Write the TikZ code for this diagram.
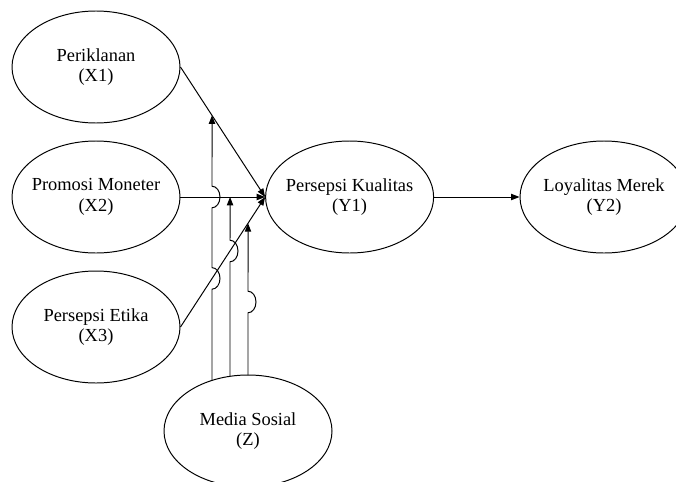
\documentclass[tikz,border=0pt]{standalone}
\usepackage{fontspec}
\setmainfont{Liberation Serif}
\usetikzlibrary{shapes.geometric, arrows.meta, calc}

\tikzset{
  var/.style={draw, ellipse, line width=0.7pt, fill=white, minimum width=4.2cm, minimum height=2.8cm,
    inner xsep=-0.2cm, inner ysep=0pt, align=center, font=\fontsize{13.1}{14.6}\selectfont},
  link/.style={-{Triangle[length=6pt,width=4.5pt]}, line width=0.7pt},
  hop/.style={x radius=0.2, y radius=0.27}
}

\begin{document}
\begin{tikzpicture}
        \useasboundingbox (0,0) rectangle (16.9,12.025);

        % Nodes
        \node[var] (x1) at (2.4,10.35) {Periklanan\\(X1)};
        \node[var] (x2) at (2.4,7.1) {Promosi Moneter\\(X2)};
        \node[var] (x3) at (2.4,3.85) {Persepsi Etika\\(X3)};
        \node[var] (y1) at (8.74,7.1) {Persepsi Kualitas\\(Y1)};
        \node[var] (y2) at (15.1,7.1) {Loyalitas Merek\\(Y2)};
        \node[var] (z) at (6.2,1.25) {Media Sosial\\(Z)};

        % Moderator ends
        \coordinate (z1) at ($(z.center)+(-0.9,1.265)$);
        \coordinate (z2) at ($(z.center)+(-0.45,1.3675)$);
        \coordinate (z3) at ($(z.center)+(0,1.4)$);
        \coordinate (m1) at (intersection of x1.east--y1.west and 5.3,0--5.3,1);
        \coordinate (m2) at (intersection of x2.east--y1.west and 5.75,0--5.75,1);
        \coordinate (m3) at (intersection of x3.east--y1.west and 6.2,0--6.2,1);

        % Arrows
        \draw[link] (x1.east) -- (y1.west);
        \draw[link] (x2.east) -- (y1.west);
        \draw[link] (x3.east) -- (y1.west);
        \draw[link] (y1) -- (y2);

        % Moderating effects
        \draw[link] (z1) -- (5.3,4.795) arc[start angle=-90, end angle=90, hop]
            -- (5.3,6.83) arc[start angle=-90, end angle=90, hop] -- (m1);
        \draw[link] (z2) -- (5.75,5.48) arc[start angle=-90, end angle=90, hop] -- (m2);
        \draw[link] (z3) -- (6.2,4.205) arc[start angle=-90, end angle=90, hop] -- (m3);
    \end{tikzpicture}
\end{document}
